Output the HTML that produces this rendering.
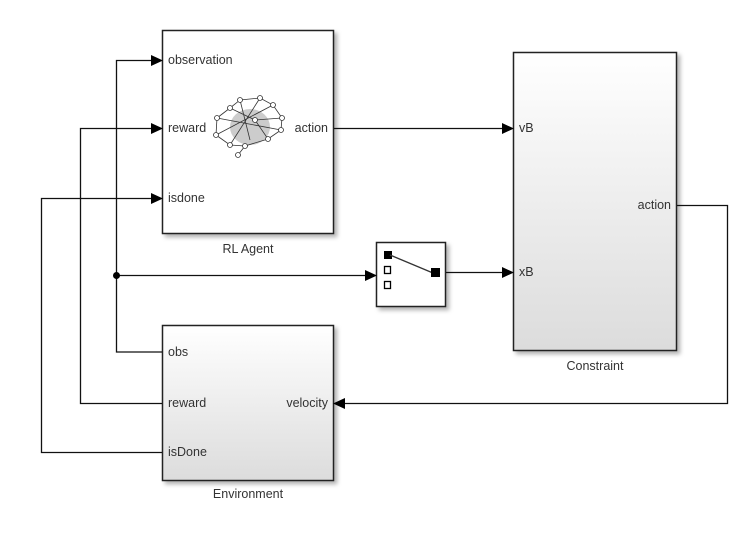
<!DOCTYPE html>
<html><head><style>
html,body{margin:0;padding:0;background:#fff;}
svg text{font-family:"Liberation Sans",Arial,sans-serif;font-size:12.5px;fill:#333;}
</style></head><body>
<svg width="748" height="537" xmlns="http://www.w3.org/2000/svg">
<defs>
<linearGradient id="g" x1="0" y1="0" x2="0" y2="1"><stop offset="0" stop-color="#ffffff"/><stop offset="1" stop-color="#dcdcdc"/></linearGradient>
<filter id="sh" x="-10%" y="-10%" width="130%" height="130%"><feDropShadow dx="3" dy="3" stdDeviation="2" flood-color="#000" flood-opacity="0.3"/></filter>
</defs>
<rect x="162.5" y="30.5" width="171" height="203" fill="#fff" stroke="#222" stroke-width="1.5" filter="url(#sh)"/>
<rect x="513.5" y="52.5" width="163" height="298" fill="url(#g)" stroke="#222" stroke-width="1.5" filter="url(#sh)"/>
<rect x="162.5" y="325.5" width="171" height="155" fill="url(#g)" stroke="#222" stroke-width="1.5" filter="url(#sh)"/>
<rect x="376.5" y="242.5" width="69" height="64" fill="#fff" stroke="#222" stroke-width="1.5" filter="url(#sh)"/>
<rect x="384" y="251" width="8" height="8" fill="#000"/>
<rect x="384.5" y="266.5" width="6" height="7" fill="#fff" stroke="#000" stroke-width="1.3"/>
<rect x="384.5" y="281.5" width="6" height="7" fill="#fff" stroke="#000" stroke-width="1.3"/>
<line x1="390" y1="255" x2="433" y2="273" stroke="#333" stroke-width="1.3"/>
<rect x="431" y="268" width="9" height="9" fill="#000"/>
<g stroke="#333" stroke-width="0.8" fill="#fff">
<ellipse cx="250" cy="127" rx="20" ry="18" fill="#ccc" stroke="none"/>
<path d="M240 100 L260 98 L273 105 L282 118 L281 130 L268 139 L245 146 L238 155 M217 118 L230 108 L240 100 M217 118 L216 135 L230 145 L245 146 M230 108 L255 120 L268 139 M240 100 L250 140 M260 98 L230 145 M217 118 L281 130 M216 135 L273 105 M255 120 L282 118" fill="none"/>
<circle cx="240" cy="100" r="2.5"/><circle cx="260" cy="98" r="2.5"/><circle cx="273" cy="105" r="2.5"/><circle cx="282" cy="118" r="2.5"/><circle cx="281" cy="130" r="2.5"/><circle cx="268" cy="139" r="2.5"/><circle cx="245" cy="146" r="2.5"/><circle cx="238" cy="155" r="2.5"/><circle cx="217" cy="118" r="2.5"/><circle cx="230" cy="108" r="2.5"/><circle cx="216" cy="135" r="2.5"/><circle cx="230" cy="145" r="2.5"/><circle cx="255" cy="120" r="2.5"/>
</g>
<text x="168" y="64">observation</text>
<text x="168" y="132">reward</text>
<text x="168" y="202">isdone</text>
<text x="328" y="132" text-anchor="end">action</text>
<text x="248" y="253" text-anchor="middle">RL Agent</text>
<text x="519" y="132">vB</text>
<text x="519" y="276">xB</text>
<text x="671" y="209" text-anchor="end">action</text>
<text x="595" y="370" text-anchor="middle">Constraint</text>
<text x="168" y="356">obs</text>
<text x="168" y="407">reward</text>
<text x="168" y="456">isDone</text>
<text x="328" y="407" text-anchor="end">velocity</text>
<text x="248" y="498" text-anchor="middle">Environment</text>
<g stroke="#111" stroke-width="1.3" fill="none">
<polyline points="162,352 116.5,352 116.5,60.5 154,60.5"/>
<polyline points="162,403.5 80.5,403.5 80.5,128.5 154,128.5"/>
<polyline points="162,452.5 41.5,452.5 41.5,198.5 154,198.5"/>
<polyline points="116.5,275.5 368,275.5"/>
<polyline points="334,128.5 505,128.5"/>
<polyline points="446,272.5 505,272.5"/>
<polyline points="677,205.5 727.5,205.5 727.5,403.5 342,403.5"/>
</g>
<circle cx="116.5" cy="275.5" r="3.5" fill="#000"/>
<g fill="#000">
<polygon points="163,60.5 151,55 151,66"/>
<polygon points="163,128.5 151,123 151,134"/>
<polygon points="163,198.5 151,193 151,204"/>
<polygon points="377,275.5 365,270 365,281"/>
<polygon points="514,128.5 502,123 502,134"/>
<polygon points="514,272.5 502,267 502,278"/>
<polygon points="333,403.5 345,398 345,409"/>
</g>
</svg>
</body></html>
